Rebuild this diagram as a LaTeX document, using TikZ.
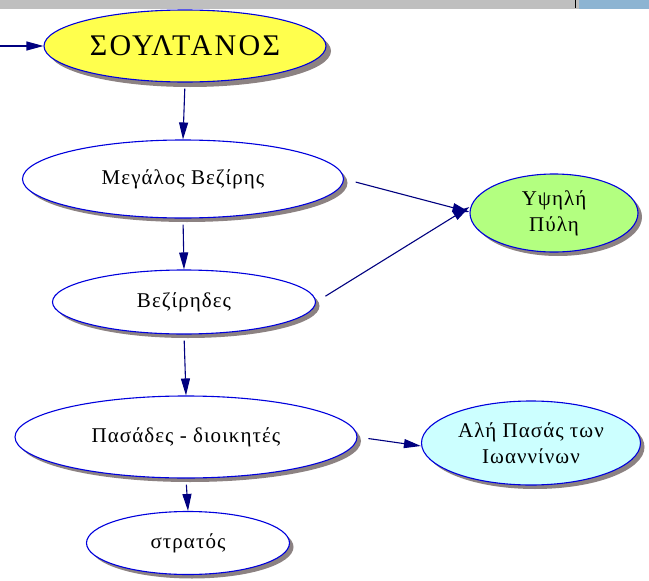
\documentclass[tikz,border=0pt]{standalone}
\usepackage{fontspec}
\setmainfont{Liberation Serif}
\usetikzlibrary{shapes.geometric,arrows.meta,shadows}
\definecolor{edgeblue}{HTML}{000080}
\definecolor{lineblue}{HTML}{0000DD}
\definecolor{sulyellow}{HTML}{FFFF4D}
\definecolor{pylegreen}{HTML}{B3FF80}
\definecolor{alicyan}{HTML}{CCFFFF}
\definecolor{shadowgray}{HTML}{8C8282}
\definecolor{barblue}{HTML}{8DB4D2}
\tikzset{
  ell/.style={ellipse, draw=lineblue, line width=1.1pt, fill=white, inner sep=0pt, align=center,
    font=\fontsize{21}{26}\selectfont\addfontfeature{LetterSpace=5},
    drop shadow={shadow xshift=4pt, shadow yshift=-4pt, fill=shadowgray, opacity=1}},
  conn/.style={draw=edgeblue, line width=1.1pt, -{Triangle[length=17pt,width=9pt]}, shorten <=6pt}
}
\begin{document}
\begin{tikzpicture}[x=1pt,y=-1pt]
\useasboundingbox (0,0) rectangle (649,581);
\fill[white] (0,0) rectangle (649,581);
% top screen bar
\fill[gray!50] (0,0) rectangle (649,9);
\fill[barblue] (579,0) rectangle (649,9);
\draw[black, line width=0.8pt] (575,0) -- (575,8);
% nodes
\node[ell, fill=sulyellow, minimum width=282pt, minimum height=72pt,
  font=\fontsize{30}{32}\selectfont\addfontfeature{LetterSpace=8},
  drop shadow={shadow xshift=5pt, shadow yshift=-5pt, fill=shadowgray, opacity=1}]
  (s) at (185,46) {ΣΟΥΛΤΑΝΟΣ};
\node[ell, minimum width=321pt, minimum height=78pt] (mv) at (183,179) {Μεγάλος Βεζίρης};
\node[ell, minimum width=263pt, minimum height=64pt] (vz) at (184,302) {Βεζίρηδες};
\node[ell, fill=pylegreen, minimum width=168pt, minimum height=78pt] (yp) at (554,213) {Υψηλή\\Πύλη};
\node[ell, minimum width=342pt, minimum height=82pt] (ps) at (186,437) {Πασάδες - διοικητές};
\node[ell, fill=alicyan, minimum width=219pt, minimum height=84pt] (al) at (531,443) {Αλή Πασάς των\\Ιωαννίνων};
\node[ell, minimum width=203pt, minimum height=63pt] (st) at (188,543) {στρατός};
\coordinate (in) at (0,46);
% connectors
\draw[conn, shorten <=0pt] (in) -- (s.west);
\draw[conn] (s.south) -- (mv.north);
\draw[conn] (mv.south) -- (vz.north);
\draw[conn] (vz.south) -- (ps.north);
\draw[conn] (ps.south) -- (st.north);
\draw[conn, shorten <=12pt] (mv.east) -- ([yshift=1pt]yp.west);
\draw[conn, shorten <=11pt] (vz.east) -- ([yshift=6pt]yp.west);
\draw[conn, shorten <=11pt] (ps.east) -- ([yshift=-3pt]al.west);
\end{tikzpicture}
\end{document}
